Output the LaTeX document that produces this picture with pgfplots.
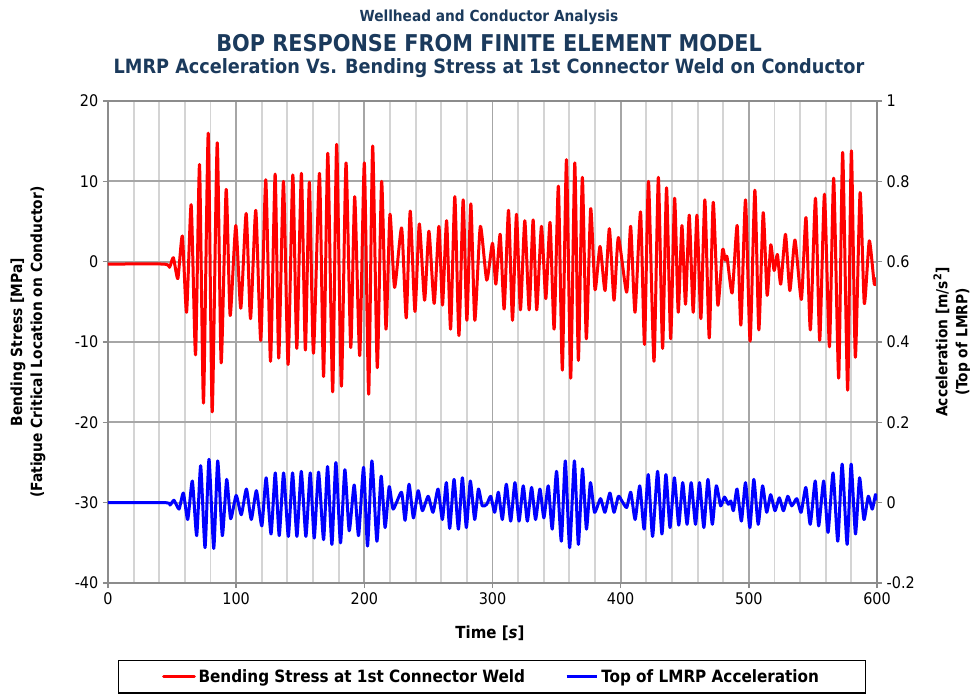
\documentclass[border=0pt]{standalone}
\usepackage{pgfplots}
\pgfplotsset{compat=1.18}
\usepackage{fontspec}
\setmainfont{DejaVu Sans Condensed}
\definecolor{titleblue}{HTML}{1B3A5C}
\definecolor{framegray}{HTML}{8C8C8C}
\definecolor{majgrid}{HTML}{A6A6A6}
\definecolor{mingrid}{HTML}{D4D4D4}
\begin{document}
\begin{tikzpicture}
\begin{axis}[
  at={(0,0)}, anchor=south west, scale only axis,
  width=576.75pt, height=361.5pt,
  xmin=0, xmax=600, ymin=-40, ymax=20,
  xtick={0,100,...,600}, minor xtick={20,40,60,80,120,140,160,180,220,240,260,280,320,340,360,380,420,440,460,480,520,540,560,580},
  ytick={-40,-30,...,20},
  xtick pos=bottom, ytick pos=left, tick align=outside,
  major tick length=3.75pt, minor tick length=0pt,
  tick style={draw=framegray, line width=1.2pt},
  grid=both,
  major grid style={draw=majgrid, line width=1.3pt},
  minor grid style={draw=mingrid, line width=1.4pt},
  axis line style={draw=framegray, line width=1.5pt},
  /pgf/number format/assume math mode=true,
  tick label style={font=\fontsize{12}{14}\selectfont},
  xlabel={\textbf{Time [\textit{s}]}},
  xlabel style={at={(axis description cs:0.4967,-0.1037)}, anchor=center, font=\fontsize{12.5}{15}\selectfont},
  ylabel={\textbf{Bending Stress [MPa]}\\\textbf{(Fatigue Critical Location on Conductor)}},
  ylabel style={at={(axis description cs:-0.104,0.5)}, anchor=center, rotate=0, align=center, font=\fontsize{11.5}{15}\selectfont},
  legend columns=2,
  legend style={at={(0.4993,-0.16)}, anchor=north, draw=black, line width=1pt,
    font=\fontsize{12.7}{14}\selectfont\bfseries, inner xsep=33pt, inner ysep=4.5pt,
    /tikz/every even column/.append style={column sep=28pt}},
  legend image code/.code={\draw[#1, line width=2.25pt] (0pt,0pt) -- (23pt,0pt);},
]
\addplot[red, line width=2.25pt, line join=round, line cap=round, smooth, tension=0.35] coordinates {
(0,-0.3) (44,-0.3) (48,-0.7) (51,0.5) (54.5,-2.1) (58,3.2) (61.3,-6.3) (64.9,7.1)
(68.3,-11.6) (71.4,12.1) (74.5,-17.6) (78.2,16.0) (81.3,-18.7) (85.2,14.8) (88.3,-12.6)
(92.2,9.0) (95.3,-6.7) (99.7,4.5) (103.6,-5.8) (107.8,6.0) (111.2,-7.1) (115.3,6.4)
(119.2,-9.8) (123.1,10.2) (126.8,-12.4) (130.4,10.9) (133.2,-12.0) (136.9,10.0)
(140.5,-12.8) (144.2,10.8) (147.3,-10.8) (150.9,11.0) (154.0,-11.0) (157.1,9.9)
(160.3,-11.4) (165,11.0) (168.2,-14.3) (171.5,13.5) (175.3,-16.2) (178.4,14.6)
(182.1,-15.5) (185.7,12.3) (189.4,-10.7) (192.5,8.1) (196.4,-11.7) (200,12.3)
(203.4,-16.5) (206.5,14.4) (210.1,-13.2) (213.5,10.0) (216.9,-8.4) (220,5.9)
(223.6,-3.2) (229.1,4.2) (232.7,-7.0) (235.8,6.3) (239.5,-6.2) (242.9,4.7) (247,-4.8)
(250.4,3.8) (254.5,-5.2) (258.2,4.4) (261,-5.4) (264.2,5.1) (267.3,-8.4) (270.6,8.1)
(273.8,-9.2) (277.1,7.7) (280,-7.3) (283.1,7.2) (286.2,-7.3) (290.5,4.4) (295.5,-2.3)
(300,2.3) (302.6,-2.8) (306,3.4) (309.1,-5.9) (312.5,6.4) (315.6,-7.3) (318.7,5.9)
(321.8,-6.0) (325.2,5.1) (328.6,-6.0) (331.7,5.2) (334.5,-6.0) (338.2,4.4) (341.6,-4.6)
(344.9,4.9) (348.1,-8.4) (351.4,9.4) (354.5,-13.5) (357.7,12.7) (361,-14.5) (364.2,12.3)
(367,-12.3) (370.1,10.5) (373.2,-9.6) (376.6,6.6) (380,-3.5) (383.9,1.9) (387.8,-3.6)
(391.2,4.1) (394.8,-4.8) (398.2,3.0) (404.7,-3.8) (407.8,4.4) (411.2,-6.3) (415.5,6.2)
(418.6,-10.3) (421.7,10.0) (426,-12.4) (429.4,10.5) (432.7,-10.8) (435.8,9.2) (439,-9.6)
(442.1,7.9) (444.9,-6.3) (447.8,4.5) (450.6,-5.3) (453.5,5.8) (456.6,-6.3) (459.5,5.8)
(462.6,-7.1) (465.7,7.7) (469.1,-9.5) (472.2,7.4) (475.8,-5.4) (479.5,1.5) (481.5,0.2)
(483,0.6) (487,-3.9) (490.9,4.5) (493.8,-7.9) (497.4,7.7) (501,-9.9) (504.7,8.9)
(507.8,-8.5) (511.2,6.1) (514.3,-4.2) (517.1,2.1) (519.7,-1.1) (522.3,0.9) (524.9,-2.8)
(528.6,3.4) (532,-3.6) (536,2.7) (541,-4.7) (544.6,5.5) (548,-8.5) (552,7.9) (555.3,-9.8)
(559,8.4) (562.9,-10.6) (566.2,10.4) (570.1,-14.5) (573.2,13.6) (577.1,-16.0) (580,13.8)
(583.1,-11.9) (586.8,8.6) (590.1,-5.2) (594,2.6) (597.9,-2.8) (600,-2.0)
};
\addlegendentry{Bending Stress at 1st Connector Weld}
\addlegendimage{blue, line width=2.25pt}
\addlegendentry{Top of LMRP Acceleration}
\end{axis}
\begin{axis}[
  at={(0,0)}, anchor=south west, scale only axis,
  width=576.75pt, height=361.5pt,
  xmin=0, xmax=600, ymin=-0.2, ymax=1,
  axis x line=none, axis y line*=right,
  ytick={-0.2,0,0.2,0.4,0.6,0.8,1},
  tick align=outside, major tick length=3.75pt,
  tick style={draw=framegray, line width=1.2pt},
  axis line style={draw=framegray, line width=1.5pt},
  /pgf/number format/assume math mode=true,
  tick label style={font=\fontsize{12}{14}\selectfont},
  ylabel={\textbf{Acceleration [m/s$^{\mathbf{2}}$]}\\\textbf{(Top of LMRP)}},
  ylabel style={at={(axis description cs:1.0975,0.5)}, anchor=center, rotate=0, align=center, font=\fontsize{11.5}{15}\selectfont},
]
\addplot[blue, line width=2.25pt, line join=round, line cap=round, smooth, tension=0.35] coordinates {
(0,0) (45,0) (48.4,-0.006) (51.5,0.006) (55.4,-0.016) (58.8,0.024) (62.2,-0.042)
(65.8,0.054) (69.2,-0.082) (72.3,0.092) (75.7,-0.112) (78.8,0.108) (82.5,-0.114)
(85.6,0.104) (89.2,-0.082) (92.6,0.058) (95.7,-0.040) (100,0.018) (104,-0.030)
(108,0.034) (111.8,-0.042) (115.8,0.030) (120,-0.058) (123.4,0.062) (127.2,-0.078)
(130.5,0.074) (133.6,-0.082) (137,0.074) (140.7,-0.084) (144,0.074) (147.4,-0.084)
(150.8,0.078) (154.4,-0.084) (157.8,0.074) (160.9,-0.088) (164.3,0.076) (168.2,-0.092)
(171.3,0.090) (174.7,-0.104) (177.8,0.100) (181.4,-0.100) (184.8,0.082) (188.2,-0.070)
(192.1,0.044) (195.5,-0.082) (199.4,0.088) (202.5,-0.108) (205.9,0.104) (209.8,-0.096)
(213.1,0.066) (216.2,-0.062) (219.4,0.040) (222.5,-0.016) (229,0.026) (231.8,-0.044)
(234.9,0.046) (238.3,-0.038) (242,0.030) (245.3,-0.020) (249.8,0.016) (253.6,-0.024)
(257.5,0.034) (260.9,-0.042) (264,0.050) (266.6,-0.064) (270,0.058) (273.4,-0.066)
(276.5,0.062) (279.6,-0.062) (282.7,0.054) (286.1,-0.042) (289,0.034) (292,-0.008)
(295.5,-0.004) (298.6,0.016) (301.7,-0.024) (304.6,0.026) (307.7,-0.042) (310.8,0.046)
(314.2,-0.046) (317.5,0.050) (320.7,-0.046) (324,0.042) (327.2,-0.046) (330.5,0.038)
(333.6,-0.042) (337,0.034) (340.1,-0.038) (343.5,0.042) (346.6,-0.066) (350,0.078)
(353.7,-0.096) (356.8,0.104) (360.2,-0.112) (363.9,0.104) (367,-0.104) (370.2,0.084)
(373.3,-0.066) (376.4,0.050) (379.6,-0.024) (384.3,0.010) (387.7,-0.024) (391.6,0.024)
(394.8,-0.024) (398.2,0.016) (401,0.004) (404.7,-0.012) (407.9,0.026) (411.3,-0.042)
(414.9,0.042) (418.3,-0.066) (421.5,0.070) (424.9,-0.084) (428.8,0.078) (432.2,-0.078)
(435.3,0.070) (438.5,-0.062) (441.9,0.062) (445.3,-0.056) (448.4,0.050) (451.8,-0.054)
(455,0.050) (458.4,-0.054) (461.5,0.050) (464.9,-0.062) (468.1,0.058) (471.5,-0.054)
(474.6,0.042) (478,-0.008) (481,0.014) (484,-0.004) (486,0.004) (488,-0.020)
(490.8,0.034) (494.2,-0.046) (497.4,0.050) (500.8,-0.062) (503.9,0.058) (507.3,-0.054)
(510.7,0.042) (513.9,-0.024) (517,0.020) (520.4,-0.020) (523.8,0.012) (527,-0.020)
(530.4,0.016) (533.5,-0.008) (537.4,0.010) (540.8,-0.024) (544.5,0.038) (547.9,-0.054)
(551.8,0.054) (554.5,-0.058) (558.4,0.054) (561.8,-0.074) (565.7,0.074) (569.4,-0.096)
(572.8,0.096) (576.7,-0.104) (579.8,0.096) (583.2,-0.078) (586.4,0.062) (589.8,-0.042)
(593.2,0.016) (596.3,-0.016) (598.8,0.020) (600,0.008)
};
\end{axis}
\node[text=titleblue, font=\bfseries, inner sep=0pt] at (285.75pt,424.5pt) {\resizebox{194pt}{!}{Wellhead and Conductor Analysis}};
\node[text=titleblue, font=\bfseries, inner sep=0pt] at (285.75pt,405pt) {\resizebox{409pt}{!}{BOP RESPONSE FROM FINITE ELEMENT MODEL}};
\node[text=titleblue, font=\bfseries, inner sep=0pt] at (285.75pt,386pt) {\resizebox{563pt}{!}{LMRP Acceleration Vs. Bending Stress at 1st Connector Weld on Conductor}};
\pgfresetboundingbox
\path[use as bounding box] (-81pt,-83.25pt) rectangle (646.5pt,437.25pt);
\end{tikzpicture}
\end{document}
